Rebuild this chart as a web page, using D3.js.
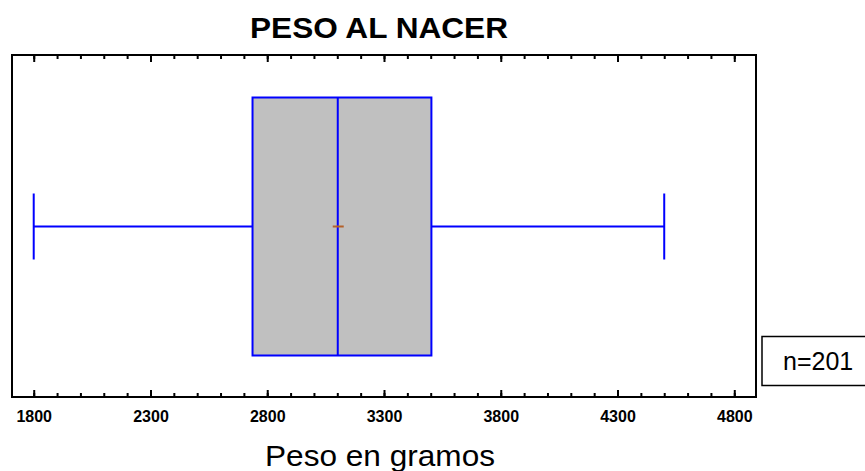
<!DOCTYPE html>
<meta charset="utf-8">
<style type="text/css">
  body { margin: 0; background: #fff; }
  text { font-family: "Liberation Sans", Arial, sans-serif; }
  .frame { fill: none; stroke: #000; stroke-width: 2; }
  .axis path { display: none; }
  .axis line { stroke: #000; stroke-width: 2; }
  .axis text { font-size: 16px; font-weight: bold; fill: #000; }
  .box { fill: #c0c0c0; stroke: #0000ff; stroke-width: 2; }
  .whisker { stroke: #0000ff; stroke-width: 2; fill: none; }
</style>

<body>
</body>
<script src="https://d3js.org/d3.v7.min.js"></script>
<script>
  // Box plot of birth weight

  var title = "PESO AL NACER";
  var xLabel = "Peso en gramos";
  var nLabel = "n=201";

  // five number summary + mean (grams)
  var stats = [1800, 2737, 3102, 3503, 4500];
  var meanValue = 3104;

  var majorTicks = [1800, 2300, 2800, 3300, 3800, 4300, 4800];
  var minorTicks = d3.range(1800, 4801, 100);

  var width = 865, height = 471;

  var plot = { left: 12, right: 756, top: 55, bottom: 397 };

  var xScale = d3.scaleLinear()
    .domain([1707, 4893])
    .range([plot.left, plot.right]);

  // vertical layout of the single box
  var boxTop = 97.5, boxBottom = 355.5;
  var midY = (boxTop + boxBottom) / 2;
  var capHalf = 33;

  var svg = d3.select("body").append("svg")
    .attr("width", width)
    .attr("height", height);

  // title (the original font is slightly stretched horizontally)
  svg.append("text")
    .attr("x", 379)
    .attr("y", 37.5)
    .attr("text-anchor", "middle")
    .attr("textLength", 258)
    .attr("lengthAdjust", "spacingAndGlyphs")
    .style("font-size", "29.5px")
    .style("font-weight", "bold")
    .text(title);

  // ticks on bottom, inward
  svg.append("g")
    .attr("class", "axis")
    .attr("transform", "translate(0," + plot.bottom + ")")
    .call(d3.axisBottom(xScale).tickValues(minorTicks).tickSize(-4).tickFormat(""));
  svg.append("g")
    .attr("class", "axis")
    .attr("transform", "translate(0," + plot.bottom + ")")
    .call(d3.axisBottom(xScale).tickValues(majorTicks).tickSizeInner(-7).tickSizeOuter(0)
      .tickPadding(14).tickFormat(d3.format("d")));

  // ticks on top, inward
  svg.append("g")
    .attr("class", "axis")
    .attr("transform", "translate(0," + plot.top + ")")
    .call(d3.axisTop(xScale).tickValues(minorTicks).tickSize(-4).tickFormat(""));
  svg.append("g")
    .attr("class", "axis")
    .attr("transform", "translate(0," + plot.top + ")")
    .call(d3.axisTop(xScale).tickValues(majorTicks).tickSize(-7).tickFormat(""));

  // frame
  svg.append("rect")
    .attr("class", "frame")
    .attr("x", plot.left)
    .attr("y", plot.top)
    .attr("width", plot.right - plot.left)
    .attr("height", plot.bottom - plot.top);

  // whiskers
  svg.append("line").attr("class", "whisker")
    .attr("x1", xScale(stats[0])).attr("x2", xScale(stats[1]))
    .attr("y1", midY).attr("y2", midY);
  svg.append("line").attr("class", "whisker")
    .attr("x1", xScale(stats[3])).attr("x2", xScale(stats[4]))
    .attr("y1", midY).attr("y2", midY);
  [stats[0], stats[4]].forEach(function(v) {
    svg.append("line").attr("class", "whisker")
      .attr("x1", xScale(v)).attr("x2", xScale(v))
      .attr("y1", midY - capHalf).attr("y2", midY + capHalf);
  });

  // box
  svg.append("rect")
    .attr("class", "box")
    .attr("x", xScale(stats[1]))
    .attr("y", boxTop)
    .attr("width", xScale(stats[3]) - xScale(stats[1]))
    .attr("height", boxBottom - boxTop);

  // median
  svg.append("line").attr("class", "whisker")
    .attr("x1", xScale(stats[2])).attr("x2", xScale(stats[2]))
    .attr("y1", boxTop).attr("y2", boxBottom);

  // mean marker
  svg.append("line")
    .attr("x1", xScale(meanValue) - 5.5).attr("x2", xScale(meanValue) + 5.5)
    .attr("y1", midY).attr("y2", midY)
    .attr("stroke", "#b4612a")
    .attr("stroke-width", 2);

  // n label box
  svg.append("rect")
    .attr("x", 762)
    .attr("y", 336.5)
    .attr("width", 120)
    .attr("height", 49)
    .attr("fill", "#fff")
    .attr("stroke", "#000")
    .attr("stroke-width", 1.5);
  svg.append("text")
    .attr("x", 783)
    .attr("y", 370)
    .style("font-size", "25px")
    .text(nLabel);

  // x axis title
  svg.append("text")
    .attr("x", 380)
    .attr("y", 466)
    .attr("text-anchor", "middle")
    .attr("textLength", 230)
    .attr("lengthAdjust", "spacingAndGlyphs")
    .style("font-size", "29px")
    .text(xLabel);
</script>
